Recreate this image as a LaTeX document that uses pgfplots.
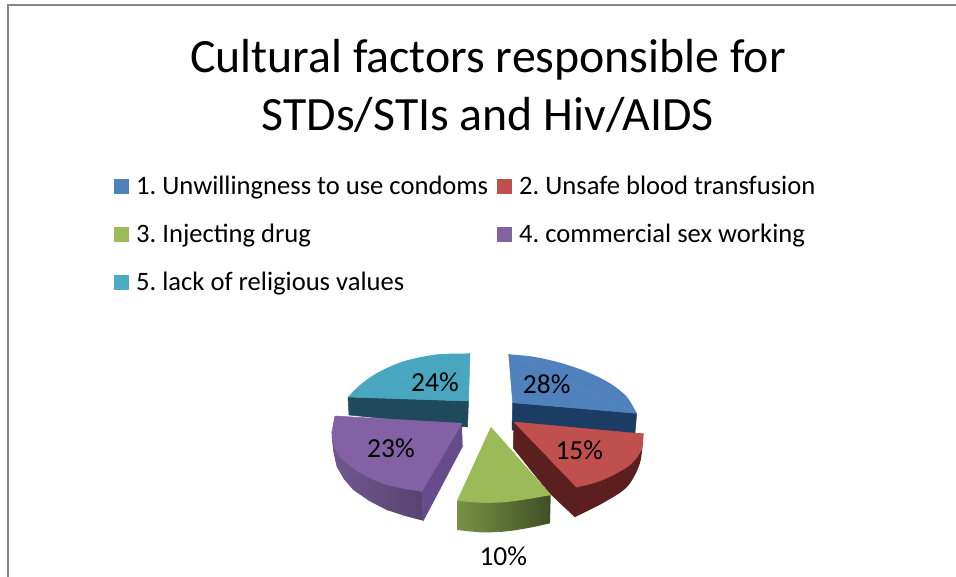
\documentclass[border=0pt]{standalone}
\usepackage{fontspec}
\setmainfont{Carlito}
\usepackage{pgfplots}
\pgfplotsset{compat=1.18}
\definecolor{cblue}{HTML}{4F81BD}
\definecolor{cred}{HTML}{C0504D}
\definecolor{cgreen}{HTML}{9BBB59}
\definecolor{cpurple}{HTML}{8064A2}
\definecolor{cteal}{HTML}{4BACC6}
\definecolor{tealtop}{HTML}{48A6BF}
\definecolor{tealside}{HTML}{1F4A5C}
\definecolor{blueside}{HTML}{1B3D63}
\definecolor{redside}{HTML}{5A1F1E}
\definecolor{purplecut}{HTML}{664C8A}
\definecolor{purpletop}{HTML}{8461A5}
\definecolor{frame}{HTML}{878787}
\pgfplotsset{face/.style={draw=#1, fill=#1, line width=0.5pt, line join=round}}
\newcommand{\lab}{\fontsize{27.5}{30}\selectfont}
\newcommand{\leg}{\fontsize{26.6}{30}\selectfont}
\newcommand{\ttl}{\fontsize{47.8}{50}\selectfont}
\begin{document}
\begin{tikzpicture}
\path[use as bounding box] (0,0) rectangle (956pt,577pt);
\begin{axis}[
  scale only axis, width=956pt, height=577pt,
  xmin=0, xmax=956, ymin=0, ymax=577, y dir=reverse,
  axis lines=none, ticks=none,
]
% frame
\addplot[draw=frame, line width=2pt] coordinates {(960,5.5) (8,5.5) (8,580)};
% legend keys
\addplot[draw=none, fill=cblue] coordinates {(114,179) (129,179) (129,194) (114,194)};
\addplot[draw=none, fill=cred] coordinates {(497,179) (512,179) (512,194) (497,194)};
\addplot[draw=none, fill=cgreen] coordinates {(114,227) (129,227) (129,242) (114,242)};
\addplot[draw=none, fill=cpurple] coordinates {(497,227) (512,227) (512,242) (497,242)};
\addplot[draw=none, fill=cteal] coordinates {(114,275) (129,275) (129,290) (114,290)};
% teal slice (24%)
\addplot[face=tealside] coordinates {(348,397) (468.5,401) (467.5,427) (349,415) (348,397)};
\addplot[face=tealtop] coordinates {(470,353.5) (348,397) (468.5,401) (470,353.5)};
\addplot[draw=none, fill=tealtop, smooth] coordinates {(470,353.5) (436,354.5) (403,361.5) (377,373) (360,385) (348,397)};
% blue slice (28%)
\addplot[face=blueside] coordinates {(512.7,402.7) (636.7,413.3) (635,433) (512,430) (512.7,402.7)};
\addplot[face=cblue] coordinates {(508.7,354.3) (636.7,413.3) (512.7,402.7) (508.7,354.3)};
\addplot[draw=none, fill=cblue, smooth] coordinates {(508.7,354.3) (533.3,356.7) (560,362.7) (586.7,371.7) (610,383.3) (626.7,396.7) (636.7,413.3)};
% purple slice (23%)
\addplot[draw=none, left color=cpurple!88!black, right color=cpurple!68!black] coordinates {(335,416) (331.7,436.7) (333.3,451.7) (336.7,466.7) (344,479.3) (353.3,490) (369.3,501) (386.7,510) (405,516) (423.3,520.7) (421.7,491.7)};
\addplot[face=purplecut] coordinates {(461.7,423.3) (462.3,446.7) (423.3,520.7) (421.7,491.7) (461.7,423.3)};
\addplot[face=purpletop] coordinates {(335,416) (331.7,433) (421.7,491.7) (461.7,423.3) (335,416)};
\addplot[draw=none, fill=purpletop, smooth] coordinates {(331.7,433) (333,442) (340,457) (360,473) (387,485) (421.7,491.7)};
% red slice (15%)
\addplot[face=redside] coordinates {(514,422) (513.3,448) (532,471.5) (550,493.5) (575,517) (643.3,434) (514,422)};
\addplot[draw=none, fill=redside, smooth] coordinates {(643.3,434) (640,463) (627,487) (603,503) (575,517)};
\addplot[face=cred] coordinates {(514,422) (643.3,434) (576.7,487.3) (514,422)};
\addplot[draw=none, fill=cred, smooth] coordinates {(643.3,434) (641.7,450) (630,465) (610,476.7) (593.3,483.3) (576.7,487.3)};
% green slice (10%)
\addplot[draw=none, left color=cgreen!78!black, right color=cgreen!42!black] coordinates {(457.3,500.7) (457.3,530) (468.7,531.3) (480,532.3) (491.7,532.3) (503.3,531.7) (515,530.3) (526.7,528.3) (538.3,526) (550,523.3) (550.7,495)};
\addplot[face=cgreen] coordinates {(491,427.3) (550.7,495) (457.3,500.7) (491,427.3)};
\addplot[draw=none, fill=cgreen, smooth] coordinates {(550.7,495) (526.7,499.3) (503.3,502.3) (480,502.7) (457.3,500.7)};
% data labels
\node[font=\lab] at (axis cs:546.7,384.3) {28\%};
\node[font=\lab] at (axis cs:579.3,450.7) {15\%};
\node[font=\lab] at (axis cs:391,448.7) {23\%};
\node[font=\lab] at (axis cs:435,382.3) {24\%};
\node[font=\lab] at (axis cs:503.3,556) {10\%};
% legend text
\node[anchor=base west, inner xsep=0pt, font=\leg] at (axis cs:136,195) {1.\ Unwillingness to use condoms};
\node[anchor=base west, inner xsep=0pt, font=\leg] at (axis cs:519,195) {2.\ Unsafe blood transfusion};
\node[anchor=base west, inner xsep=0pt, font=\leg] at (axis cs:136,243) {3.\ Injecting drug};
\node[anchor=base west, inner xsep=0pt, font=\leg] at (axis cs:519,243) {4.\ commercial sex working};
\node[anchor=base west, inner xsep=0pt, font=\leg] at (axis cs:136,291) {5.\ lack of religious values};
% title
\node[anchor=base, font=\ttl] at (axis cs:488,73) {Cultural factors responsible for};
\node[anchor=base, font=\ttl] at (axis cs:488,131) {STDs/STIs and Hiv/AIDS};
\end{axis}
\end{tikzpicture}
\end{document}
